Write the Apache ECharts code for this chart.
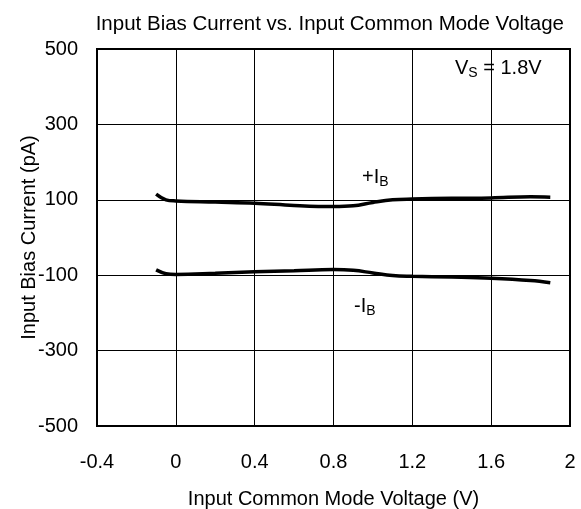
<!DOCTYPE html>
<html><head><meta charset="utf-8">
<script src="https://cdn.jsdelivr.net/npm/echarts@6/dist/echarts.min.js"></script>
<style>html,body{margin:0;padding:0;background:#fff}#c{width:581px;height:509px}</style>
</head><body><div id="c"></div>
<script>
const vcm = [-0.1, -0.05, 0, 0.2, 0.4, 0.6, 0.8, 0.9, 1.0, 1.1, 1.2, 1.4, 1.6, 1.8, 1.9];
const ibPlus = [115, 100, 97, 94, 91, 85, 82, 84, 93, 100, 102, 104, 105, 108, 107];
const ibMinus = [-86, -96, -98, -95, -91, -88, -85, -87, -94, -101, -103, -105, -108, -114, -120];
const yTicks = [-500, -300, -100, 100, 300, 500];

const FONT = 'Liberation Sans';
const FS = 20;
const chart = echarts.init(document.getElementById('c'), null, {renderer: 'canvas'});
const pair = (xs, ys) => xs.map((x, i) => [x, ys[i]]);
const richLabel = {
  a: {fontFamily: FONT, fontSize: 20, fill: '#000'},
  b: {fontFamily: FONT, fontSize: 14, fill: '#000', padding: [10, 0, 0, 0]}
};
chart.setOption({
  animation: false,
  textStyle: {fontFamily: FONT},
  title: {
    text: 'Input Bias Current vs. Input Common Mode Voltage',
    right: 12, top: 9,
    textStyle: {fontFamily: FONT, fontSize: 20.5, fontWeight: 'normal', color: '#000'}
  },
  grid: {left: 97, top: 49, width: 473, height: 377, show: true, borderColor: '#000', borderWidth: 2,
         containLabel: false, outerBoundsMode: 'none'},
  xAxis: {
    type: 'value', min: -0.4, max: 2, interval: 0.4,
    name: 'Input Common Mode Voltage (V)', nameLocation: 'middle', nameGap: 63,
    nameTextStyle: {fontFamily: FONT, fontSize: FS, color: '#000'},
    axisLine: {show: true, onZero: false, lineStyle: {color: '#000', width: 2}},
    axisTick: {show: false},
    axisLabel: {fontFamily: FONT, fontSize: FS, color: '#000', margin: 26},
    splitLine: {show: true, lineStyle: {color: '#000', width: 1}}
  },
  yAxis: {
    type: 'value', min: -500, max: 500,
    name: 'Input Bias Current (pA)', nameLocation: 'middle', nameGap: 58, nameMoveOverlap: false,
    nameTextStyle: {fontFamily: FONT, fontSize: FS, color: '#000'},
    axisLine: {show: true, onZero: false, lineStyle: {color: '#000', width: 2}},
    axisTick: {show: false, customValues: yTicks},
    axisLabel: {fontFamily: FONT, fontSize: FS, color: '#000', margin: 19, customValues: yTicks},
    splitLine: {show: true, lineStyle: {color: '#000', width: 1}}
  },
  series: [
    {type: 'line', data: pair(vcm, ibPlus), smooth: 0.4, showSymbol: false, lineStyle: {color: '#000', width: 3.5}},
    {type: 'line', data: pair(vcm, ibMinus), smooth: 0.4, showSymbol: false, lineStyle: {color: '#000', width: 3.5}}
  ],
  graphic: [
    {type: 'text', left: 362, top: 167, style: {text: '{a|+I}{b|B}', rich: richLabel}},
    {type: 'text', left: 354, top: 296, style: {text: '{a|-I}{b|B}', rich: richLabel}},
    {type: 'text', left: 455, top: 58, style: {text: '{a|V}{b|S}{a| = 1.8V}', rich: richLabel}}
  ]
});
</script></body></html>
